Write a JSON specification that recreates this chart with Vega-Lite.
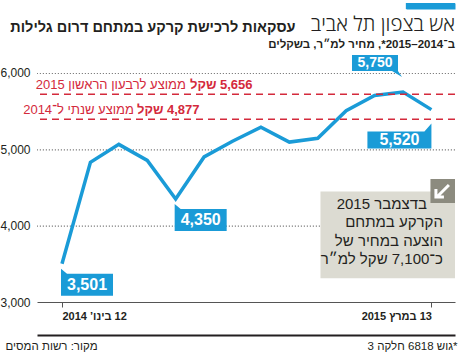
{
  "$schema": "https://vega.github.io/schema/vega-lite/v6.json",
  "width": 418,
  "height": 302,
  "autosize": {"type": "none"},
  "padding": {"left": 37, "top": 0, "right": 3, "bottom": 52},
  "background": "#ffffff",
  "title": {
    "text": "\u202bאש בצפון תל אביב\u202c",
    "subtitle": "\u202bב־2014–2015*, מחיר למ״ר, בשקלים\u202c",
    "orient": "top",
    "anchor": "end",
    "frame": "group",
    "offset": -50,
    "font": "Open Sans",
    "fontSize": 20.5,
    "fontWeight": 300,
    "color": "#231f20",
    "subtitleFont": "Liberation Sans",
    "subtitleFontSize": 11.5,
    "subtitleFontWeight": "bold",
    "subtitleColor": "#231f20",
    "subtitlePadding": 3
  },
  "config": {
    "view": {"stroke": null},
    "font": "Liberation Sans",
    "axis": {"labelFont": "Liberation Sans", "titleFont": "Liberation Sans"},
    "text": {"font": "Liberation Sans"}
  },
  "datasets": {
    "prices": [
      {"i": 0, "price": 3501},
      {"i": 1, "price": 4830},
      {"i": 2, "price": 5065},
      {"i": 3, "price": 4855},
      {"i": 4, "price": 4350},
      {"i": 5, "price": 4900},
      {"i": 6, "price": 5105},
      {"i": 7, "price": 5290},
      {"i": 8, "price": 5095},
      {"i": 9, "price": 5145},
      {"i": 10, "price": 5505},
      {"i": 11, "price": 5705},
      {"i": 12, "price": 5750},
      {"i": 13, "price": 5520}
    ],
    "ticks": [
      {"v": 4000},
      {"v": 5000},
      {"v": 6000}
    ],
    "avg": [
      {"k": "q1", "pos": 5721, "amount": "\u202b5,656 שקל\u202c", "desc": "\u202bממוצע לרבעון הראשון 2015\u202c"},
      {"k": "y14", "pos": 5393, "amount": "\u202b4,877 שקל\u202c", "desc": "\u202bממוצע שנתי ל־2014\u202c"}
    ]
  },
  "layer": [
    {
      "data": {"name": "ticks"},
      "mark": {"type": "rule", "color": "#808080", "strokeWidth": 1.2, "strokeDash": [1.2, 1.8], "yOffset": 0.5},
      "encoding": {
        "y": {"field": "v", "type": "quantitative", "axis": null}
      }
    },
    {
      "data": {"values": [{"part": "decor"}]},
      "mark": {"type": "rule", "color": "#1a9bd7", "strokeWidth": 6, "strokeCap": "butt"},
      "encoding": {
        "x": {"datum": 12.1, "type": "quantitative", "axis": null},
        "x2": {"datum": 13.83},
        "y": {
          "datum": 6878,
          "type": "quantitative",
          "axis": {
            "orient": "right",
            "offset": -49,
            "values": [6878],
            "domain": false,
            "labels": false,
            "grid": false,
            "ticks": true,
            "tickSize": 49,
            "tickWidth": 6,
            "tickColor": "#1a9bd7",
            "tickCap": "butt",
            "title": null
          }
        }
      }
    },
    {
      "data": {"name": "prices"},
      "mark": {"type": "line", "color": "#1a9bd7", "strokeWidth": 3.5},
      "encoding": {
        "x": {
          "field": "i",
          "type": "quantitative",
          "scale": {"domain": [-0.88, 13.83], "nice": false, "zero": false},
          "axis": {
            "orient": "bottom",
            "values": [0, 13],
            "grid": false,
            "domainColor": "#555555",
            "domainWidth": 1,
            "tickColor": "#555555",
            "tickSize": 5,
            "labelExpr": "datum.value == 0 ? '\u202b12 בינו’ 2014\u202c' : '\u202b13 במרץ 2015\u202c'",
            "labelAlign": {"condition": {"test": "datum.value < 5", "value": "left"}, "value": "right"},
            "labelFontSize": 11,
            "labelFontWeight": "bold",
            "labelColor": "#231f20",
            "labelPadding": 3,
            "title": "\u202b*גוש 6818 חלקה 3\u202c",
            "titleX": 420,
            "titleY": 47,
            "titleAngle": 0,
            "titleAlign": "right",
            "titleBaseline": "alphabetic",
            "titleFontSize": 11.5,
            "titleFontWeight": "normal",
            "titleColor": "#231f20"
          }
        },
        "y": {
          "field": "price",
          "type": "quantitative",
          "scale": {"domain": [3000, 6956], "nice": false, "zero": false},
          "axis": {
            "orient": "left",
            "values": [3000, 4000, 5000, 6000],
            "format": ",.0f",
            "domain": false,
            "ticks": false,
            "tickSize": 0,
            "grid": false,
            "labelPadding": 7,
            "labelFontSize": 12,
            "labelColor": "#231f20",
            "title": "\u202bעסקאות לרכישת קרקע במתחם דרום גלילות\u202c",
            "titleX": 258,
            "titleY": 31,
            "titleAngle": 0,
            "titleAlign": "right",
            "titleBaseline": "alphabetic",
            "titleFontSize": 14.5,
            "titleFontWeight": "bold",
            "titleColor": "#231f20"
          }
        }
      }
    },
    {
      "data": {"name": "avg"},
      "mark": {"type": "rule", "color": "#d42a3c", "strokeWidth": 1.5, "strokeDash": [7, 5]},
      "encoding": {
        "y": {"field": "pos", "type": "quantitative", "axis": null}
      }
    },
    {
      "data": {"values": [{"part": "note"}]},
      "mark": {"type": "rect", "color": "#dcdbd2"},
      "encoding": {
        "x": {
          "datum": 9.096,
          "type": "quantitative",
          "axis": {
            "orient": "bottom",
            "offset": 33,
            "domain": true,
            "domainColor": "#231f20",
            "domainWidth": 2,
            "ticks": false,
            "labels": false,
            "grid": false,
            "title": "\u202bמקור: רשות המסים\u202c",
            "titleX": -32,
            "titleY": 14,
            "titleAngle": 0,
            "titleAlign": "left",
            "titleBaseline": "alphabetic",
            "titleFontSize": 11.5,
            "titleFontWeight": "normal",
            "titleColor": "#231f20"
          }
        },
        "x2": {"datum": 13.83},
        "y": {"datum": 4448, "type": "quantitative", "axis": null},
        "y2": {"datum": 3310}
      }
    },
    {
      "data": {"values": [{"part": "icon"}]},
      "layer": [
        {
          "mark": {"type": "rect", "color": "#8c8b7f"},
          "encoding": {
            "x": {"datum": 12.966, "type": "quantitative", "axis": null},
            "x2": {"datum": 13.83},
            "y": {"datum": 4611, "type": "quantitative", "axis": null},
            "y2": {"datum": 4297}
          }
        },
        {
          "mark": {"type": "point", "shape": "M7,-6 L-5,6 M-6,-2 L-6,6 L2,6", "size": 4, "filled": false, "stroke": "#ffffff", "strokeWidth": 3, "opacity": 1},
          "encoding": {
            "x": {"datum": 13.37, "type": "quantitative", "axis": null},
            "y": {"datum": 4454, "type": "quantitative", "axis": null}
          }
        },
        {
          "mark": {"type": "text", "align": "right", "baseline": "alphabetic", "fontSize": 15, "color": "#231f20"},
          "encoding": {
            "x": {"datum": 12.843, "type": "quantitative", "axis": null},
            "y": {"datum": 4218, "type": "quantitative", "axis": null},
            "text": {"value": "\u202bבדצמבר 2015\u202c"}
          }
        },
        {
          "mark": {"type": "text", "align": "right", "baseline": "alphabetic", "fontSize": 15, "lineHeight": 18.5, "color": "#231f20"},
          "encoding": {
            "x": {"datum": 13.406, "type": "quantitative", "axis": null},
            "y": {"datum": 3976, "type": "quantitative", "axis": null},
            "text": {"value": ["\u202bהקרקע במתחם\u202c", "\u202bהוצעה במחיר של\u202c", "\u202bכ־7,100 שקל למ״ר\u202c"]}
          }
        }
      ]
    },
    {
      "data": {"name": "prices"},
      "transform": [{"filter": "datum.i == 0 || datum.i == 4"}],
      "encoding": {
        "x": {"field": "i", "type": "quantitative", "axis": null},
        "y": {"field": "price", "type": "quantitative", "axis": null}
      },
      "layer": [
        {"mark": {"type": "point", "shape": "M-1,5 L5,10 L51,10 L51,32 L-1,32 Z", "size": 4, "filled": true, "color": "#1a9bd7", "opacity": 1, "strokeWidth": 0}},
        {"mark": {"type": "text", "align": "center", "baseline": "middle", "dx": 25, "dy": 21.5, "fontSize": 16, "fontWeight": "bold", "color": "#ffffff"},
         "encoding": {"text": {"field": "price", "type": "quantitative", "format": ","}}}
      ]
    },
    {
      "data": {"name": "prices"},
      "transform": [{"filter": "datum.i == 12"}],
      "encoding": {
        "x": {"field": "i", "type": "quantitative", "axis": null},
        "y": {"field": "price", "type": "quantitative", "axis": null}
      },
      "layer": [
        {"mark": {"type": "point", "shape": "M-51,-37 L-5,-37 L-5,-21 L-1,-15 L-11,-21 L-51,-21 Z", "size": 4, "filled": true, "color": "#1a9bd7", "opacity": 1, "strokeWidth": 0}},
        {"mark": {"type": "text", "align": "center", "baseline": "middle", "dx": -28, "dy": -29, "fontSize": 14, "fontWeight": "bold", "color": "#ffffff"},
         "encoding": {"text": {"field": "price", "type": "quantitative", "format": ","}}}
      ]
    },
    {
      "data": {"name": "prices"},
      "transform": [{"filter": "datum.i == 13"}],
      "encoding": {
        "x": {"field": "i", "type": "quantitative", "axis": null},
        "y": {"field": "price", "type": "quantitative", "axis": null}
      },
      "layer": [
        {"mark": {"type": "point", "shape": "M0,14 L0,39 L-64,39 L-64,22 L-7,22 Z", "size": 4, "filled": true, "color": "#1a9bd7", "opacity": 1, "strokeWidth": 0}},
        {"mark": {"type": "text", "align": "center", "baseline": "middle", "dx": -32, "dy": 30.5, "fontSize": 16, "fontWeight": "bold", "color": "#ffffff"},
         "encoding": {"text": {"field": "price", "type": "quantitative", "format": ","}}}
      ]
    },
    {
      "data": {"name": "avg"},
      "transform": [{"filter": "datum.k == 'q1'"}],
      "encoding": {
        "y": {"field": "pos", "type": "quantitative", "axis": null}
      },
      "layer": [
        {"mark": {"type": "text", "align": "right", "baseline": "alphabetic", "dy": -5, "fontSize": 13, "color": "#d42a3c"},
         "encoding": {"x": {"datum": 4.363, "type": "quantitative", "axis": null}, "text": {"field": "desc"}}},
        {"mark": {"type": "text", "align": "left", "baseline": "alphabetic", "dy": -5, "fontSize": 13, "fontWeight": "bold", "color": "#d42a3c"},
         "encoding": {"x": {"datum": 4.504, "type": "quantitative", "axis": null}, "text": {"field": "amount"}}}
      ]
    },
    {
      "data": {"name": "avg"},
      "transform": [{"filter": "datum.k == 'y14'"}],
      "encoding": {
        "y": {"field": "pos", "type": "quantitative", "axis": null}
      },
      "layer": [
        {"mark": {"type": "text", "align": "right", "baseline": "alphabetic", "dy": -5, "fontSize": 13, "color": "#d42a3c"},
         "encoding": {"x": {"datum": 2.533, "type": "quantitative", "axis": null}, "text": {"field": "desc"}}},
        {"mark": {"type": "text", "align": "left", "baseline": "alphabetic", "dy": -5, "fontSize": 13, "fontWeight": "bold", "color": "#d42a3c"},
         "encoding": {"x": {"datum": 2.639, "type": "quantitative", "axis": null}, "text": {"field": "amount"}}}
      ]
    }
  ],
  "resolve": {"axis": {"x": "independent", "y": "independent"}}
}
